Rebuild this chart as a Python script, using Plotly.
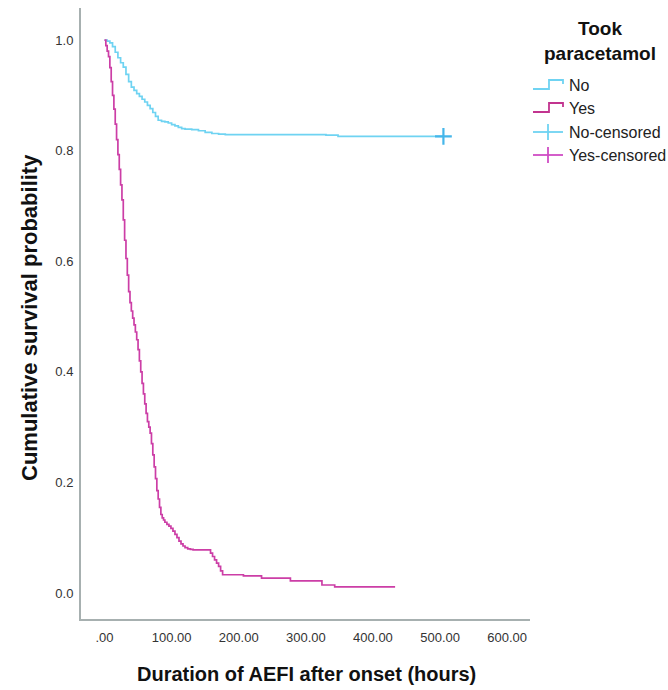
import plotly.graph_objects as go

# ---------------- data ----------------
no_time = [0, 4, 8, 12, 16, 20, 24, 28, 32, 36, 40, 44, 48, 52, 56, 60, 64, 68, 72, 76,
           80, 85, 90, 95, 100, 105, 110, 115, 120, 130, 140, 150, 160, 170, 180, 240,
           330, 348, 505]
no_surv = [1.0, 0.998, 0.995, 0.988, 0.978, 0.968, 0.959, 0.951, 0.938, 0.925, 0.915,
           0.909, 0.903, 0.898, 0.893, 0.888, 0.882, 0.876, 0.869, 0.862, 0.855, 0.853,
           0.852, 0.850, 0.847, 0.845, 0.842, 0.840, 0.839, 0.838, 0.836, 0.833, 0.831,
           0.830, 0.829, 0.829, 0.828, 0.826, 0.826]

yes_time = [0, 2, 4, 6, 8, 10, 12, 14, 16, 18, 20, 22, 24, 26, 28, 30, 32, 34, 36, 38,
            40, 42, 44, 46, 48, 50, 52, 54, 56, 58, 60, 62, 64, 66, 68, 70, 72, 74, 76,
            78, 80, 82, 84, 86, 88, 90, 93, 96, 99, 102, 105, 108, 111, 114, 117, 120,
            124, 128, 132, 155, 158, 161, 164, 167, 170, 173, 176, 207, 234, 277, 324,
            343, 433]
yes_surv = [1.0, 0.99, 0.98, 0.97, 0.95, 0.925, 0.90, 0.875, 0.848, 0.82, 0.793, 0.766,
            0.738, 0.711, 0.675, 0.638, 0.605, 0.575, 0.545, 0.525, 0.51, 0.497, 0.485,
            0.472, 0.458, 0.44, 0.42, 0.40, 0.379, 0.36, 0.342, 0.325, 0.31, 0.30, 0.289,
            0.27, 0.25, 0.228, 0.207, 0.185, 0.17, 0.155, 0.142, 0.136, 0.132, 0.128,
            0.124, 0.121, 0.117, 0.112, 0.106, 0.10, 0.094, 0.089, 0.085, 0.082, 0.080,
            0.079, 0.078, 0.078, 0.072, 0.066, 0.060, 0.054, 0.048, 0.040, 0.033, 0.031,
            0.027, 0.022, 0.0145, 0.011, 0.011]

no_censored_time = [505]
no_censored_surv = [0.826]

x_ticks = [0, 100, 200, 300, 400, 500, 600]
x_ticktext = [".00", "100.00", "200.00", "300.00", "400.00", "500.00", "600.00"]
y_ticks = [0.0, 0.2, 0.4, 0.6, 0.8, 1.0]
y_ticktext = ["0.0", "0.2", "0.4", "0.6", "0.8", "1.0"]

legend_title = "Took<br>paracetamol"
legend_labels = ["No", "Yes", "No-censored", "Yes-censored"]

# ---------------- styling ----------------
C_NO = "#6fd3f2"
C_NO_MARK = "#45b6ea"
C_YES = "#cc3ea6"
C_YES_LEG = "#c2348f"
C_YES_CENS = "#d04cc4"
AXIS_COL = "#a7b0b0"
FONT = "Liberation Sans, Arial, sans-serif"

W, H = 668, 690
L, R, T, B = 81, 138, 8, 71
PW, PH = W - L - R, H - T - B


def px(xp):
    return (xp - L) / PW


def py(yp):
    return (H - B - yp) / PH


fig = go.Figure()
fig.add_trace(go.Scatter(x=no_time, y=no_surv, mode="lines", line=dict(color=C_NO, width=1.7, shape="hv"),
                         name="No", showlegend=False))
fig.add_trace(go.Scatter(x=yes_time, y=yes_surv, mode="lines", line=dict(color=C_YES, width=1.7, shape="hv"),
                         name="Yes", showlegend=False))
fig.add_trace(go.Scatter(x=no_censored_time, y=no_censored_surv, mode="markers",
                         marker=dict(symbol="cross-thin", size=12, line=dict(color=C_NO_MARK, width=2.2)),
                         name="No-censored", showlegend=False))

fig.update_layout(
    width=W, height=H,
    margin=dict(l=L, r=R, t=T, b=B, pad=0),
    paper_bgcolor="white", plot_bgcolor="white",
    font=dict(family=FONT, color="#333333"),
    showlegend=False,
    xaxis=dict(range=[-35, 634], tickvals=x_ticks, ticktext=x_ticktext, showgrid=False, zeroline=False,
               showline=True, linecolor=AXIS_COL, linewidth=2, ticks="", ticklabelstandoff=5,
               tickfont=dict(size=13, color="#333333")),
    yaxis=dict(range=[-0.047, 1.058], tickvals=y_ticks, ticktext=y_ticktext, showgrid=False, zeroline=False,
               showline=True, linecolor=AXIS_COL, linewidth=2, ticks="", ticklabelstandoff=3,
               tickfont=dict(size=13, color="#333333")),
)

ann = []
# axis titles
ann.append(dict(text="<b>Duration of AEFI after onset (hours)</b>", x=px(306), y=py(674), xref="paper", yref="paper",
                showarrow=False, font=dict(size=20, color="#111111", family=FONT), xanchor="center", yanchor="middle"))
ann.append(dict(text="<b>Cumulative survival probability</b>", x=px(29), y=py(318), xref="paper", yref="paper",
                showarrow=False, textangle=-90, font=dict(size=22, color="#111111", family=FONT),
                xanchor="center", yanchor="middle"))
# legend title
ann.append(dict(text="<b>" + legend_title + "</b>", x=px(600), y=py(41), xref="paper", yref="paper",
                showarrow=False, font=dict(size=19, color="#111111", family=FONT), xanchor="center",
                yanchor="middle", align="center"))

shapes = []
leg_y = [85, 108, 132, 155]
leg_cols = [C_NO, C_YES_LEG, C_NO, C_YES_CENS]
for i, (lab, yy, col) in enumerate(zip(legend_labels, leg_y, leg_cols)):
    ann.append(dict(text=lab, x=px(567), y=py(yy), xref="paper", yref="paper", showarrow=False,
                    font=dict(size=16, color="#222222", family=FONT), xanchor="left", yanchor="middle"))
    if i < 2:
        path = "M {:.4f} {:.4f} L {:.4f} {:.4f} L {:.4f} {:.4f} L {:.4f} {:.4f} L {:.4f} {:.4f}".format(
            px(533), py(yy + 4), px(549), py(yy + 4), px(549), py(yy - 5), px(563), py(yy - 5), px(563), py(yy - 1))
        shapes.append(dict(type="path", path=path, xref="paper", yref="paper", line=dict(color=col, width=1.8)))
    else:
        shapes.append(dict(type="line", x0=px(533), x1=px(563), y0=py(yy), y1=py(yy), xref="paper", yref="paper",
                           line=dict(color=col, width=1.8)))
        shapes.append(dict(type="line", x0=px(548), x1=px(548), y0=py(yy - 8), y1=py(yy + 8), xref="paper",
                           yref="paper", line=dict(color=col, width=1.8)))

fig.update_layout(annotations=ann, shapes=shapes)
fig.write_html("out.html", config={"displayModeBar": False},
               post_script="document.body.style.margin='0';document.body.style.overflow='hidden';")
